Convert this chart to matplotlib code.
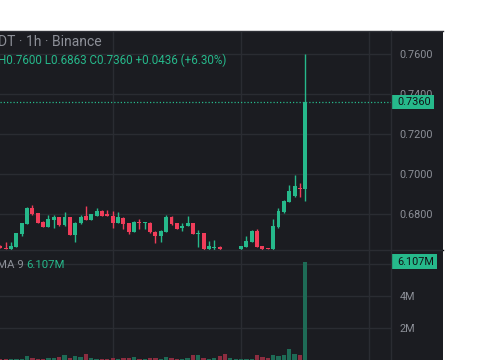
import matplotlib
matplotlib.use("Agg")
import matplotlib.pyplot as plt
import matplotlib.transforms as mtransforms
from matplotlib.patches import Rectangle

# hourly candles, oldest first (price pane clips everything below ~0.6622)
opens = [0.6640, 0.6632, 0.6625, 0.6637, 0.6700, 0.6750, 0.6832, 0.6803, 0.6762, 0.6737,
         0.6770, 0.6783, 0.6745, 0.6783, 0.6695, 0.6753, 0.6790, 0.6770, 0.6792, 0.6815,
         0.6798, 0.6790, 0.6757, 0.6782, 0.6753, 0.6712, 0.6762, 0.6755, 0.6757, 0.6712,
         0.6690, 0.6712, 0.6783, 0.6753, 0.6728, 0.6742, 0.6753, 0.6702, 0.6703, 0.6623,
         0.6630, 0.6637, 0.6618, 0.6598, 0.6608, 0.6623, 0.6637, 0.6660, 0.6715, 0.6640,
         0.6624, 0.6623, 0.6733, 0.6808, 0.6862, 0.6890, 0.6925, 0.6924]
highs = [0.6645, 0.6658, 0.6658, 0.6705, 0.6755, 0.6835, 0.6845, 0.6805, 0.6765, 0.6795,
         0.6795, 0.6787, 0.6812, 0.6785, 0.6760, 0.6795, 0.6840, 0.6800, 0.6828, 0.6818,
         0.6820, 0.6813, 0.6808, 0.6785, 0.6755, 0.6765, 0.6773, 0.6758, 0.6760, 0.6715,
         0.6720, 0.6795, 0.6790, 0.6755, 0.6757, 0.6792, 0.6757, 0.6720, 0.6705, 0.6665,
         0.6670, 0.6640, 0.6619, 0.6612, 0.6615, 0.6642, 0.6690, 0.6718, 0.6723, 0.6642,
         0.6626, 0.6773, 0.6828, 0.6868, 0.6945, 0.6995, 0.6953, 0.7600]
lows = [0.6628, 0.6623, 0.6622, 0.6635, 0.6690, 0.6748, 0.6795, 0.6755, 0.6735, 0.6735,
        0.6728, 0.6742, 0.6742, 0.6693, 0.6662, 0.6750, 0.6768, 0.6768, 0.6790, 0.6788,
        0.6788, 0.6728, 0.6755, 0.6723, 0.6700, 0.6710, 0.6723, 0.6723, 0.6705, 0.6653,
        0.6662, 0.6710, 0.6745, 0.6723, 0.6717, 0.6740, 0.6698, 0.6633, 0.6620, 0.6620,
        0.6620, 0.6620, 0.6590, 0.6592, 0.6600, 0.6620, 0.6635, 0.6658, 0.6635, 0.6620,
        0.6610, 0.6620, 0.6730, 0.6803, 0.6858, 0.6885, 0.6887, 0.6863]
closes = [0.6632, 0.6625, 0.6640, 0.6703, 0.6753, 0.6832, 0.6798, 0.6757, 0.6737, 0.6773,
          0.6783, 0.6745, 0.6783, 0.6695, 0.6757, 0.6787, 0.6770, 0.6798, 0.6815, 0.6790,
          0.6790, 0.6757, 0.6783, 0.6748, 0.6712, 0.6762, 0.6753, 0.6757, 0.6708, 0.6692,
          0.6717, 0.6783, 0.6748, 0.6725, 0.6742, 0.6753, 0.6700, 0.6704, 0.6623, 0.6640,
          0.6632, 0.6623, 0.6598, 0.6608, 0.6610, 0.6640, 0.6665, 0.6715, 0.6637, 0.6623,
          0.6623, 0.6740, 0.6815, 0.6865, 0.6915, 0.6940, 0.6924, 0.7360]
# volume in millions
volumes = [0.07, 0.07, 0.07, 0.07, 0.07, 0.28, 0.15, 0.11, 0.11, 0.15,
           0.15, 0.20, 0.32, 0.15, 0.28, 0.24, 0.40, 0.15, 0.07, 0.07,
           0.07, 0.15, 0.11, 0.15, 0.15, 0.24, 0.11, 0.11, 0.15, 0.15,
           0.11, 0.20, 0.15, 0.11, 0.07, 0.15, 0.32, 0.32, 0.15, 0.11,
           0.15, 0.28, 0.40, 0.15, 0.11, 0.11, 0.11, 0.11, 0.32, 0.20,
           0.15, 0.32, 0.28, 0.32, 0.69, 0.40, 0.32, 6.107]

price_ticks = [0.68, 0.70, 0.72, 0.74, 0.76]
vol_ticks = [2, 4, 6]
vol_labels = ["2M", "4M", ""]  # 6M sits under the last-volume tag
day_lines = [21, 45, 69]
last_close = 0.7360
last_volume = 6.107

title = "DT · 1h · Binance"
ohlc_text = "H0.7600 L0.6863 C0.7360 +0.0436 (+6.30%)"

BG = "#1b1c21"
GRID = "#2a2c32"
TXT = "#8c8f97"
UP = "#26b98b"
DOWN = "#f03d5a"
VUP = "#1e6b56"
VDOWN = "#8c2d40"

plt.rcParams["font.family"] = ["Roboto", "DejaVu Sans"]

W, H = 485, 360
fig = plt.figure(figsize=(W / 100, H / 100), dpi=100, facecolor="white")

def fx(px):
    return px / W

def fy(py):
    return 1 - py / H

# dark chart panel, offset in the white page
fig.patches.append(Rectangle((0, 0), fx(443), fy(31), transform=fig.transFigure,
                             facecolor=BG, edgecolor="none", zorder=-5))

pane_split = 249.7
chart_right = 391
ax = fig.add_axes([0, fy(pane_split), fx(chart_right), fy(31) - fy(pane_split)])
axv = fig.add_axes([0, 0, fx(chart_right), fy(pane_split)])

n = len(opens)
xs = list(range(n))
for a in (ax, axv):
    a.set_facecolor("none")
    for s in a.spines.values():
        s.set_visible(False)
    a.set_xlim(-0.06, 73.03)
    a.set_xticks([])
    for d in day_lines:
        a.axvline(d, color=GRID, lw=1, zorder=0)

# candles
col = [UP if c >= o else DOWN for o, c in zip(opens, closes)]
ax.vlines(xs, lows, highs, colors=col, lw=1, zorder=2)
bottoms = [min(o, c) for o, c in zip(opens, closes)]
heights = [max(abs(c - o), 0.0005) for o, c in zip(opens, closes)]
ax.bar(xs, heights, bottom=bottoms, width=0.74, color=col, zorder=3)

ax.set_ylim(0.6622, 0.7715)
ax.yaxis.tick_right()
ax.set_yticks(price_ticks)
ax.set_yticklabels([f"{t:.4f}" for t in price_ticks])
ax.tick_params(axis="y", length=0, pad=6, labelcolor=TXT, labelsize=7.8)
for t in price_ticks:
    ax.axhline(t, color=GRID, lw=1, zorder=0)

# last price line + tag
ax.axhline(last_close, color=UP, lw=0.9, ls=(0, (1, 1.6)), zorder=1)
tr = mtransforms.blended_transform_factory(ax.transAxes, ax.transData)
ax.add_patch(Rectangle((1.0, last_close - 0.0035), 43 / chart_right, 0.007,
                       transform=tr, facecolor=UP, edgecolor="none",
                       clip_on=False, zorder=6))
ax.text(1.0 + 6 / chart_right, last_close, f"{last_close:.4f}", transform=tr,
        va="center", ha="left", color="#111316", fontsize=7.8, zorder=7, clip_on=False)

# volume pane
vcol = [VUP if c >= o else VDOWN for o, c in zip(opens, closes)]
axv.bar(xs, volumes, width=0.8, color=vcol, zorder=2)
axv.set_ylim(0.031, 6.861)
axv.yaxis.tick_right()
axv.set_yticks(vol_ticks)
axv.set_yticklabels(vol_labels)
axv.tick_params(axis="y", length=0, pad=6, labelcolor=TXT, labelsize=7.8)
for t in vol_ticks:
    axv.axhline(t, color=GRID, lw=1, zorder=0)
trv = mtransforms.blended_transform_factory(axv.transAxes, axv.transData)
axv.add_patch(Rectangle((1.0, last_volume - 0.465), 46 / chart_right, 0.93,
                        transform=trv, facecolor=UP, edgecolor="none",
                        clip_on=False, zorder=6))
axv.text(1.0 + 6 / chart_right, last_volume, f"{last_volume:.3f}M", transform=trv,
         va="center", ha="left", color="#111316", fontsize=7.8, zorder=7, clip_on=False)

# separators
fig.add_artist(plt.Line2D([fx(chart_right), fx(chart_right)], [0, fy(31)],
                          transform=fig.transFigure, color=GRID, lw=1))
fig.add_artist(plt.Line2D([0, fx(443)], [fy(pane_split), fy(pane_split)],
                          transform=fig.transFigure, color=GRID, lw=1))
fig.add_artist(plt.Line2D([0, fx(443)], [fy(31), fy(31)],
                          transform=fig.transFigure, color="#2e3036", lw=1))

# legends
fig.text(fx(-2), fy(42), title, color=TXT, fontsize=10, va="center", ha="left")
fig.text(fx(-2), fy(60.5), ohlc_text, color=UP, fontsize=8.4, va="center", ha="left")
fig.text(fx(-3), fy(265), "MA 9", color=TXT, fontsize=8.2, va="center", ha="left")
fig.text(fx(26), fy(265), f"{last_volume:.3f}M", color=UP, fontsize=8.2, va="center", ha="left")

fig.savefig("out.png", dpi=100, facecolor="white")
